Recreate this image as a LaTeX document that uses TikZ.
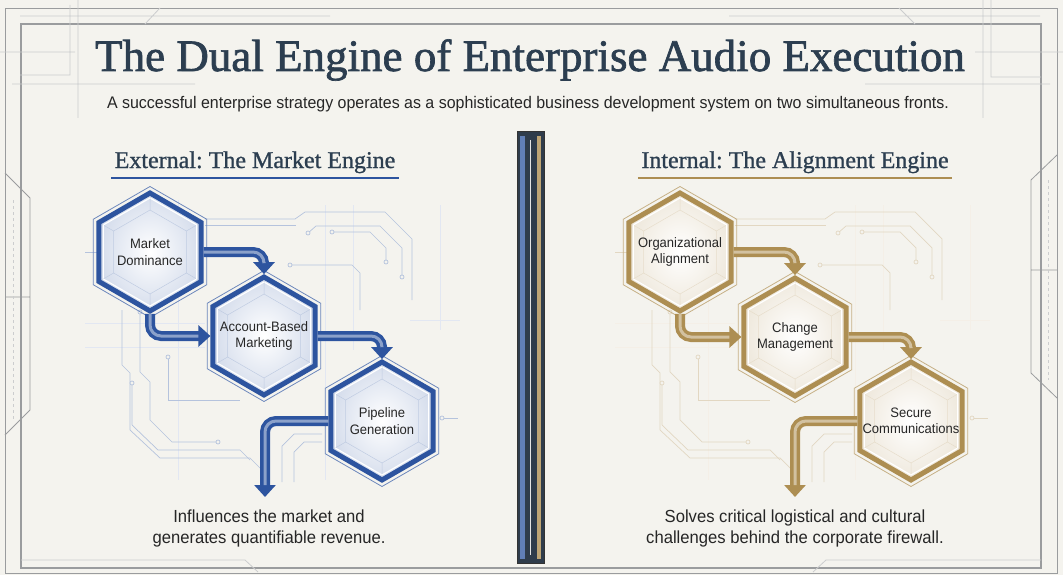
\documentclass[tikz,border=0pt]{standalone}
\usepackage{fontspec}
\setmainfont{Liberation Serif}
\newfontfamily\condsans[FakeStretch=0.95]{Liberation Sans}
\newfontfamily\heavyserif[FakeBold=1.5]{Liberation Serif}
\newfontfamily\headserif[FakeBold=1]{Liberation Serif}
\usetikzlibrary{arrows.meta, shapes.geometric, calc}
\definecolor{paper}{HTML}{F4F3EE}
\definecolor{ink}{HTML}{2C3E50}
\definecolor{mblue}{HTML}{2D549F}
\definecolor{mgold}{HTML}{AD8E52}
\definecolor{frame}{HTML}{9A9C9E}
\definecolor{barfill}{HTML}{2F3C4B}
\frenchspacing

\begin{document}
\begin{tikzpicture}[x=1pt, y=-1pt,
  hexb/.style={regular polygon, regular polygon sides=6, shape border rotate=30,
               minimum size=118pt, inner sep=0pt, line width=5pt, draw=#1,
               inner color=white, outer color=#1!20,
               path picture={
                 \foreach \a in {30,90,...,330}{
                   \draw[#1!30, line width=0.5pt]
                     ($(path picture bounding box.center)+(\a:42pt)$) --
                     ($(path picture bounding box.center)+(\a+60:42pt)$)
                     ($(path picture bounding box.center)+(\a:42pt)$) --
                     ($(path picture bounding box.center)+(\a:56pt)$);
                   \draw[white, line width=1.2pt]
                     ($(path picture bounding box.center)+(\a:54pt)$) --
                     ($(path picture bounding box.center)+(\a+60:54pt)$);
                 }
               }},
  hexring/.style={regular polygon, regular polygon sides=6, shape border rotate=30,
                  minimum size=131pt, draw=#1!70, line width=0.8pt},
  hexlab/.style={text=black!85, align=center, inner sep=0pt,
                 font=\condsans\fontsize{13.7}{16.5}\selectfont},
  flowb/.style={draw=#1, line width=10pt, rounded corners=11pt,
                -{Triangle[length=12pt,width=21pt]}},
  flowin/.style={draw=#1!55!white, line width=3pt, rounded corners=11pt, shorten >=12pt},
  trace/.style={draw=#1!35, line width=0.7pt},
  gridln/.style={draw=#1!14, line width=0.6pt},
  head/.style={font=\headserif\fontsize{24}{28}\selectfont, text=ink, anchor=base},
  note/.style={font=\condsans\fontsize{17.5}{21}\selectfont, align=center, text=black!85},
  fr/.style={draw=frame, line width=0.8pt}
]
  \fill[paper] (0,0) rectangle (1063,575);
  \useasboundingbox (0,0) rectangle (1063,575);

  % frame
  \draw[fr] (5,8) rectangle (1057,573);
  \draw[fr, line width=1.1pt] (21,24) rectangle (1041,568);
  \draw[fr] (5,173) -- (30,198) -- (30,410) -- (5,435) (5,297) -- (30,297);
  \draw[fr] (1057,155) -- (1031,180) -- (1031,373) -- (1057,398) (1031,270) -- (1057,270);
  \draw[fr, draw=frame!50, dashed] (13,200) -- (13,420) (1048,180) -- (1048,380);
  \draw[fr, draw=frame!50] (20,16) -- (330,16) (0,52) -- (75,52) (70,5) -- (70,75) -- (20,75)
    (12,84) -- (195,84) (78,0) -- (78,118) (145,24) -- (160,8);
  \draw[fr, draw=frame!50] (729,16) -- (1040,16) (899,8) -- (915,24) (975,52) -- (1063,52)
    (991,0) -- (991,77) -- (1041,77) (865,84) -- (1050,84) (983,0) -- (983,118);
  \draw[fr, draw=frame!50] (21,560) -- (245,560) -- (258,572) (813,572) -- (826,560) -- (1041,560);

  % circuit traces
  \foreach \dx/\c in {0/mblue, 530/mgold}{
    \begin{scope}[xshift=\dx]
      \draw[gridln=\c] (178,200) -- (178,480) (325,205) -- (325,480) (353,205) -- (353,350)
        (440,205) -- (440,330) (85,323) -- (205,323) (85,347) -- (205,347) (410,320) -- (460,320);
      \draw[trace=\c] (205,219) -- (295,219) -- (305,212) -- (385,212) -- (412,239) -- (412,300);
      \draw[trace=\c] (205,225) -- (296,225);
      \draw[trace=\c] (308,233) -- (316,226) -- (380,226) -- (402,248) -- (402,277);
      \draw[trace=\c] (332,232) -- (370,232) -- (386,248) -- (386,262);
      \draw[trace=\c] (290,265) -- (352,265) -- (360,273) -- (360,310);
      \draw[trace=\c] (122,310) -- (122,365) -- (130,373) -- (130,430) -- (160,458)
        -- (250,458) -- (262,470) -- (262,482);
      \draw[trace=\c] (140,312) -- (140,372) -- (150,382) -- (150,420) -- (172,442) -- (218,442);
      \draw[trace=\c] (132,383) -- (132,425) -- (158,450) -- (240,450) -- (250,460);
      \draw[trace=\c] (168,357) -- (168,400) -- (240,400);
      \draw[trace=\c] (282,482) -- (282,446) -- (294,434) -- (322,434);
      \draw[trace=\c] (294,482) -- (294,452) -- (304,442) -- (322,442);
      \draw[trace=\c] (85,252) -- (97,252) (442,418) -- (458,418);
      \foreach \p in {(308,233), (332,232), (402,277), (386,262), (290,265), (218,442),
                      (132,383), (140,312), (442,418), (168,357)}
        \draw[trace=\c, fill=paper] \p circle[radius=2pt];
    \end{scope}
  }

  % titles
  \node[anchor=base, font=\heavyserif\fontsize{45}{54}\selectfont, text=ink] (title) at (530,71)
    {The Dual Engine of Enterprise Audio Execution};
  \node[anchor=base, font=\condsans\fontsize{16.8}{20}\selectfont, text=black!85] (sub) at (528,109)
    {A successful enterprise strategy operates as a sophisticated business development system on two simultaneous fronts.};
  \node[head] (headL) at (255,168) {External: The Market Engine};
  \node[head] (headR) at (795,168) {Internal: The Alignment Engine};
  \draw[mblue, line width=2pt] ([yshift=-10pt]headL.base west) -- ([yshift=-10pt]headL.base east);
  \draw[mgold, line width=2pt] ([yshift=-10pt]headR.base west) -- ([yshift=-10pt]headR.base east);

  % divider
  \node[draw=black!80, fill=barfill, line width=1pt, minimum width=27pt, minimum height=431pt,
        inner sep=0pt] (bar) at (530.5,347.5) {};
  \fill[mblue!75!white] (520,136) rectangle (525,559);
  \fill[mgold!80!white] (537,136) rectangle (541,559);
  \draw[white!80!gray, line width=0.6pt] (530,140) -- (530,555);

  % hexagons
  \foreach \n/\p/\c in {1/{(150,252)}/mblue, 2/{(264,336)}/mblue, 3/{(382,421)}/mblue,
                        4/{(680,252)}/mgold, 5/{(795,337)}/mgold, 6/{(911,421)}/mgold}{
    \node[hexring=\c] (R\n) at \p {};
    \node[hexb=\c] (H\n) at \p {};
  }
  \node[hexlab] (L1) at (H1) {Market\\Dominance};
  \node[hexlab] (L2) at (H2) {Account-Based\\Marketing};
  \node[hexlab] (L3) at (H3) {Pipeline\\Generation};
  \node[hexlab] (L4) at (H4) {Organizational\\Alignment};
  \node[hexlab] (L5) at (H5) {Change\\Management};
  \node[hexlab] (L6) at (H6) {Secure\\Communications};

  \coordinate (outL) at (265,497);
  \coordinate (outR) at (795,497);

  \foreach \s/\e/\c in {H1.east/H2.north/mblue, H2.east/H3.north/mblue, H3.west/outL/mblue,
                        H4.east/H5.north/mgold, H5.east/H6.north/mgold, H6.west/outR/mgold}{
    \draw[flowb=\c] (\s) -| (\e);
    \draw[flowin=\c] (\s) -| (\e);
  }
  \foreach \s/\e/\c in {H1.south/H2.west/mblue, H4.south/H5.west/mgold}{
    \draw[flowb=\c] (\s) |- (\e);
    \draw[flowin=\c] (\s) |- (\e);
  }

  \node[note] (noteL) at (269,528) {Influences the market and\\generates quantifiable revenue.};
  \node[note] (noteR) at (795,528) {Solves critical logistical and cultural\\challenges behind the corporate firewall.};
\end{tikzpicture}
\end{document}
